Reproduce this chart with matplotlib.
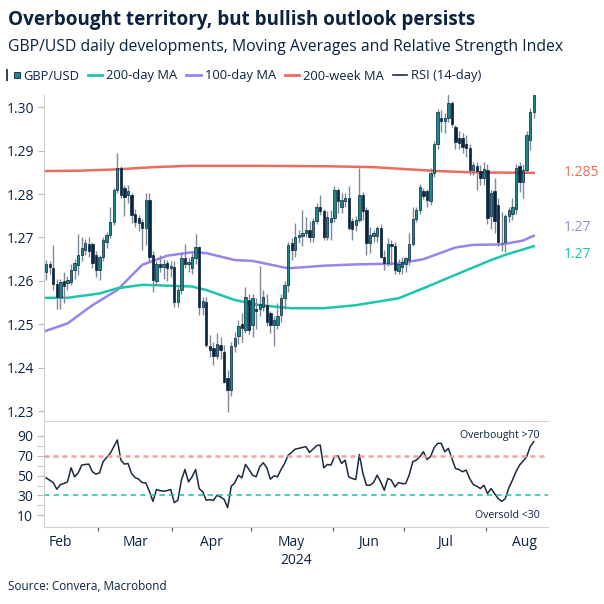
import numpy as np
import pandas as pd
import matplotlib
matplotlib.use("Agg")
import matplotlib.pyplot as plt
from matplotlib.lines import Line2D
from matplotlib.legend_handler import HandlerTuple

plt.rcParams['font.family'] = ['Open Sans', 'DejaVu Sans']

# GBP/USD daily candles, 9 Feb - 20 Aug 2024 (business days)
dates = pd.bdate_range('2024-02-09', '2024-08-20')

gbp_open = [
    1.2621, 1.2640, 1.2630, 1.2592, 1.2564, 1.2600, 1.2595, 1.2597, 1.2625, 1.2637,
    1.2660, 1.2671, 1.2685, 1.2685, 1.2660, 1.2625, 1.2656, 1.2690, 1.2706, 1.2736,
    1.2810, 1.2859, 1.2813, 1.2798, 1.2798, 1.2754, 1.2744, 1.2736, 1.2721, 1.2786,
    1.2660, 1.2600, 1.2640, 1.2633, 1.2641, 1.2629, 1.2633, 1.2552, 1.2579, 1.2652,
    1.2640, 1.2629, 1.2652, 1.2679, 1.2541, 1.2552, 1.2450, 1.2446, 1.2426, 1.2452,
    1.2437, 1.2376, 1.2349, 1.2449, 1.2472, 1.2500, 1.2487, 1.2556, 1.2499, 1.2535,
    1.2536, 1.2541, 1.2545, 1.2525, 1.2499, 1.2499, 1.2522, 1.2560, 1.2591, 1.2687,
    1.2672, 1.2700, 1.2703, 1.2710, 1.2717, 1.2700, 1.2737, 1.2770, 1.2760, 1.2702,
    1.2735, 1.2744, 1.2809, 1.2771, 1.2783, 1.2791, 1.2738, 1.2728, 1.2740, 1.2798,
    1.2763, 1.2687, 1.2704, 1.2703, 1.2721, 1.2656, 1.2642, 1.2685, 1.2681, 1.2622,
    1.2633, 1.2640, 1.2648, 1.2685, 1.2742, 1.2763, 1.2806, 1.2806, 1.2784, 1.2848,
    1.2915, 1.2975, 1.2968, 1.2975, 1.3009, 1.2955, 1.2930, 1.2930, 1.2915, 1.2906,
    1.2856, 1.2865, 1.2853, 1.2836, 1.2855, 1.2750, 1.2806, 1.2775, 1.2687, 1.2690,
    1.2750, 1.2755, 1.2765, 1.2865, 1.2828, 1.2855, 1.2925, 1.2990,
]
gbp_high = [
    1.2648, 1.2645, 1.2682, 1.2605, 1.2605, 1.2620, 1.2612, 1.2640, 1.2650, 1.2709,
    1.2702, 1.2697, 1.2700, 1.2690, 1.2668, 1.2660, 1.2700, 1.2712, 1.2771, 1.2813,
    1.2894, 1.2864, 1.2822, 1.2822, 1.2803, 1.2765, 1.2752, 1.2742, 1.2803, 1.2803,
    1.2670, 1.2645, 1.2660, 1.2650, 1.2648, 1.2645, 1.2645, 1.2585, 1.2667, 1.2684,
    1.2652, 1.2665, 1.2709, 1.2680, 1.2563, 1.2563, 1.2475, 1.2460, 1.2480, 1.2470,
    1.2452, 1.2395, 1.2460, 1.2483, 1.2510, 1.2525, 1.2587, 1.2570, 1.2570, 1.2560,
    1.2634, 1.2580, 1.2570, 1.2530, 1.2520, 1.2550, 1.2570, 1.2600, 1.2690, 1.2698,
    1.2733, 1.2717, 1.2763, 1.2748, 1.2737, 1.2745, 1.2779, 1.2798, 1.2765, 1.2760,
    1.2763, 1.2818, 1.2815, 1.2802, 1.2802, 1.2818, 1.2745, 1.2750, 1.2860, 1.2805,
    1.2770, 1.2725, 1.2717, 1.2727, 1.2730, 1.2671, 1.2698, 1.2695, 1.2690, 1.2650,
    1.2656, 1.2656, 1.2710, 1.2771, 1.2770, 1.2823, 1.2815, 1.2812, 1.2860, 1.2923,
    1.2995, 1.2994, 1.2987, 1.3044, 1.3015, 1.2960, 1.2945, 1.2940, 1.2935, 1.2915,
    1.2875, 1.2875, 1.2868, 1.2875, 1.2870, 1.2810, 1.2838, 1.2790, 1.2758, 1.2755,
    1.2770, 1.2790, 1.2870, 1.2875, 1.2870, 1.2945, 1.2998, 1.3054,
]
gbp_low = [
    1.2602, 1.2615, 1.2580, 1.2536, 1.2535, 1.2549, 1.2580, 1.2590, 1.2605, 1.2614,
    1.2645, 1.2660, 1.2655, 1.2630, 1.2610, 1.2602, 1.2645, 1.2675, 1.2698, 1.2728,
    1.2802, 1.2790, 1.2750, 1.2780, 1.2733, 1.2725, 1.2715, 1.2671, 1.2683, 1.2645,
    1.2575, 1.2590, 1.2620, 1.2605, 1.2600, 1.2610, 1.2540, 1.2540, 1.2570, 1.2630,
    1.2620, 1.2617, 1.2640, 1.2521, 1.2522, 1.2447, 1.2425, 1.2406, 1.2420, 1.2420,
    1.2365, 1.2299, 1.2334, 1.2437, 1.2455, 1.2460, 1.2480, 1.2477, 1.2470, 1.2490,
    1.2520, 1.2530, 1.2495, 1.2480, 1.2449, 1.2490, 1.2505, 1.2535, 1.2575, 1.2648,
    1.2656, 1.2687, 1.2680, 1.2702, 1.2690, 1.2690, 1.2730, 1.2752, 1.2694, 1.2695,
    1.2694, 1.2735, 1.2756, 1.2756, 1.2770, 1.2717, 1.2695, 1.2715, 1.2735, 1.2740,
    1.2660, 1.2664, 1.2690, 1.2690, 1.2652, 1.2625, 1.2635, 1.2637, 1.2617, 1.2615,
    1.2617, 1.2621, 1.2637, 1.2680, 1.2735, 1.2755, 1.2788, 1.2770, 1.2775, 1.2840,
    1.2905, 1.2944, 1.2940, 1.2965, 1.2955, 1.2905, 1.2905, 1.2895, 1.2886, 1.2844,
    1.2845, 1.2809, 1.2822, 1.2820, 1.2730, 1.2720, 1.2710, 1.2680, 1.2668, 1.2666,
    1.2735, 1.2740, 1.2755, 1.2805, 1.2790, 1.2848, 1.2902, 1.2975,
]
gbp_close = [
    1.2640, 1.2632, 1.2592, 1.2564, 1.2597, 1.2588, 1.2602, 1.2625, 1.2641, 1.2660,
    1.2675, 1.2687, 1.2668, 1.2641, 1.2625, 1.2656, 1.2694, 1.2706, 1.2736, 1.2810,
    1.2859, 1.2798, 1.2794, 1.2806, 1.2752, 1.2736, 1.2733, 1.2721, 1.2786, 1.2656,
    1.2602, 1.2640, 1.2633, 1.2638, 1.2629, 1.2634, 1.2551, 1.2579, 1.2652, 1.2640,
    1.2644, 1.2656, 1.2679, 1.2541, 1.2554, 1.2452, 1.2440, 1.2426, 1.2454, 1.2441,
    1.2368, 1.2349, 1.2449, 1.2468, 1.2495, 1.2491, 1.2564, 1.2487, 1.2560, 1.2531,
    1.2546, 1.2564, 1.2506, 1.2498, 1.2510, 1.2518, 1.2560, 1.2591, 1.2683, 1.2672,
    1.2700, 1.2706, 1.2711, 1.2717, 1.2700, 1.2737, 1.2770, 1.2760, 1.2700, 1.2748,
    1.2744, 1.2809, 1.2783, 1.2786, 1.2791, 1.2722, 1.2720, 1.2740, 1.2798, 1.2760,
    1.2687, 1.2706, 1.2710, 1.2721, 1.2656, 1.2642, 1.2685, 1.2681, 1.2625, 1.2640,
    1.2644, 1.2652, 1.2685, 1.2743, 1.2763, 1.2817, 1.2796, 1.2786, 1.2848, 1.2915,
    1.2990, 1.2968, 1.2976, 1.3009, 1.2962, 1.2921, 1.2917, 1.2909, 1.2906, 1.2856,
    1.2867, 1.2853, 1.2836, 1.2858, 1.2745, 1.2802, 1.2737, 1.2690, 1.2688, 1.2750,
    1.2763, 1.2771, 1.2860, 1.2828, 1.2855, 1.2936, 1.2990, 1.3030,
]

# moving averages, read at selected days (index into dates)
ma200d_idx = [0, 6, 15, 20, 27, 34, 41, 45, 53, 60, 69, 78, 87, 99, 106, 115, 125, 129, 137]
ma200d = [1.2561, 1.2561, 1.2571, 1.2583, 1.2591, 1.2589, 1.2587, 1.2579, 1.2556, 1.2544,
          1.2537, 1.2537, 1.2544, 1.2560, 1.2583, 1.2614, 1.2648, 1.2660, 1.2680]
ma100d_idx = [0, 6, 13, 20, 27, 34, 41, 45, 53, 58, 68, 78, 87, 99, 106, 115, 120, 128, 134, 137]
ma100d = [1.2485, 1.2502, 1.2544, 1.2579, 1.2637, 1.2658, 1.2666, 1.2664, 1.2648, 1.2646,
          1.2629, 1.2635, 1.2638, 1.2640, 1.2650, 1.2677, 1.2683, 1.2684, 1.2693, 1.2704]
ma200w_idx = [0, 10, 20, 30, 40, 60, 80, 92, 100, 110, 120, 137]
ma200w = [1.2853, 1.2854, 1.2857, 1.2862, 1.2865, 1.2865, 1.2864, 1.2862, 1.2858, 1.2853,
          1.2850, 1.2849]
ma_labels = ['1.285', '1.27', '1.27']

# RSI (14-day)
rsi = [
    47.8, 45.4, 43.0, 36.3, 41.0, 42.0, 43.7, 57.9, 48.8, 52.8,
    60.6, 61.3, 61.6, 53.9, 51.5, 52.8, 64.0, 68.4, 72.4, 79.2,
    86.0, 65.7, 61.6, 62.3, 52.2, 48.1, 46.4, 43.0, 42.7, 34.3,
    24.1, 36.0, 34.9, 34.3, 34.9, 36.0, 22.8, 25.1, 45.4, 56.2,
    43.7, 48.8, 56.2, 37.0, 33.6, 25.1, 25.8, 25.1, 30.2, 28.5,
    26.1, 17.7, 39.3, 42.7, 50.5, 47.8, 61.3, 56.2, 50.5, 48.8,
    58.9, 63.0, 57.9, 46.4, 49.8, 48.8, 56.2, 62.3, 70.7, 73.5,
    76.8, 77.5, 78.5, 79.2, 73.4, 76.8, 80.2, 80.9, 57.9, 61.3,
    60.6, 69.1, 70.1, 62.3, 65.7, 48.8, 47.1, 46.1, 71.4, 52.2,
    40.3, 40.3, 43.0, 50.5, 43.7, 35.3, 47.1, 45.4, 38.6, 43.0,
    42.0, 42.0, 50.5, 64.0, 65.7, 69.1, 74.1, 66.4, 69.1, 78.2,
    82.6, 82.6, 74.1, 77.5, 67.4, 57.2, 56.2, 53.9, 55.6, 47.1,
    41.0, 39.3, 37.0, 40.3, 31.9, 37.0, 31.9, 26.8, 24.1, 26.8,
    37.6, 45.4, 53.9, 60.6, 64.7, 69.1, 79.2, 84.3,
]

navy = '#0b2340'
bull = '#1a8a88'
bear = '#0b2540'
wick = '#7c8997'
c200d = '#1cc6aa'
c100d = '#9b82ef'
c200w = '#ea6c5f'
grey = '#cfcfcf'

o = np.array(gbp_open)
h = np.array(gbp_high)
l = np.array(gbp_low)
c = np.array(gbp_close)
x = np.arange(len(dates))

fig = plt.figure(figsize=(6.04, 6.04), dpi=100)
ax = fig.add_axes([44/604, 1-421/604, 504/604, 326/604])
ax2 = fig.add_axes([44/604, 1-527/604, 504/604, 104/604], sharex=ax)

# candles
up = c >= o
ax.vlines(x, l, h, color=wick, lw=1.0, zorder=2)
ax.bar(x[up], (c-o)[up], bottom=o[up], width=0.66, color=bull,
       edgecolor=bear, linewidth=0.5, zorder=3)
ax.bar(x[~up], (o-c)[~up], bottom=c[~up], width=0.66, color=bear,
       edgecolor=bear, linewidth=0.5, zorder=3)

ax.plot(ma200w_idx, ma200w, color=c200w, lw=1.8, zorder=1)
ax.plot(ma100d_idx, ma100d, color=c100d, lw=1.8, zorder=1)
ax.plot(ma200d_idx, ma200d, color=c200d, lw=1.8, zorder=1)

for val, txt, col, dy in [(ma200w[-1], ma_labels[0], c200w, 0),
                          (ma100d[-1], ma_labels[1], c100d, 8),
                          (ma200d[-1], ma_labels[2], c200d, -8)]:
    ax.annotate(txt, xy=(1, val), xycoords=('axes fraction', 'data'),
                xytext=(16, dy), textcoords='offset pixels',
                color=col, fontsize=10, va='center', annotation_clip=False)

ax.set_xlim(-0.6, 141)
ax.set_ylim(1.22772, 1.30283)
ax.set_yticks(np.arange(1.23, 1.3001, 0.01))
ax.set_yticklabels([f'{v:.2f}' for v in np.arange(1.23, 1.3001, 0.01)])
ax.tick_params(axis='y', length=4, color='#bbbbbb', labelcolor=navy, labelsize=10, pad=3)
for s in ['top', 'right']:
    ax.spines[s].set_visible(False)
ax.spines['left'].set_color(grey)
ax.spines['bottom'].set_color(grey)

# RSI panel
ax2.plot(x, rsi, color='#1b2a41', lw=1.1)
ax2.axhline(70, color='#f4a298', lw=1.8, ls=(0, (2.0, 1.6)))
ax2.axhline(30, color='#1fbfa5', lw=1.1, ls=(0, (3.5, 2.8)))
ax2.set_ylim(-1.8, 103.1)
ax2.set_yticks([10, 30, 50, 70, 90])
ax2.set_yticks([20, 40, 60, 80], minor=True)
ax2.tick_params(axis='y', which='both', length=5, color='#bbbbbb', labelcolor=navy, labelsize=10, pad=3)
ax2.text(0.984, 90.5, 'Overbought >70', transform=ax2.get_yaxis_transform(),
         ha='right', va='center', fontsize=7.6, color=navy)
ax2.text(0.984, 10, 'Oversold <30', transform=ax2.get_yaxis_transform(),
         ha='right', va='center', fontsize=7.6, color=navy)
for s in ['top', 'right']:
    ax2.spines[s].set_visible(False)
ax2.spines['left'].set_color(grey)
ax2.spines['bottom'].set_color(grey)

# month ticks at boundaries, labels centred on full months
allb = pd.bdate_range('2024-02-01', '2024-08-31')
pos = {d: i for i, d in enumerate(allb)}
off = pos[dates[0]]
months = pd.date_range('2024-02-01', '2024-09-01', freq='MS')
starts = [allb.searchsorted(m) - off - 0.5 for m in months]
ax2.set_xticks(starts[1:-1])
ax2.set_xticks([(a + b) / 2 for a, b in zip(starts[:-1], starts[1:])], minor=True)
ax2.set_xticklabels([m.strftime('%b') for m in months[:-1]], minor=True)
ax2.tick_params(axis='x', which='major', length=3, color='#555555', labelbottom=False)
ax2.tick_params(axis='x', which='minor', length=0, labelcolor=navy, labelsize=10, pad=6)
ax2.set_xlim(-0.6, 141)
# main panel shares the x axis but shows no x ticks or labels
ax.tick_params(axis='x', which='both', bottom=False, labelbottom=False)

fig.text(296/604, 1-561/604, '2024', ha='center', va='center', fontsize=10, color=navy)

fig.text(8/604, 1-20/604, 'Overbought territory, but bullish outlook persists',
         fontsize=13.6, fontweight='bold', color=navy, va='center')
fig.text(8/604, 1-47/604, 'GBP/USD daily developments, Moving Averages and Relative Strength Index',
         fontsize=11.3, color=navy, va='center')
fig.text(8/604, 1-586/604, 'Source: Convera, Macrobond', fontsize=8.5, color=navy, va='center')

h_candle = (Line2D([], [], color=bear, marker='|', markersize=9, mew=1.2, ls='None'),
            Line2D([], [], marker='s', markersize=4.5, markerfacecolor=bull,
                   markeredgecolor=bear, mew=0.6, ls='None'))
handles = [h_candle,
           Line2D([], [], color=c200d, lw=2),
           Line2D([], [], color=c100d, lw=2),
           Line2D([], [], color=c200w, lw=2),
           Line2D([], [], color='#1b2a41', lw=1.2)]
names = ['GBP/USD', '200-day MA', '100-day MA', '200-week MA', 'RSI (14-day)']
leg = fig.legend(handles, names, loc='center left', bbox_to_anchor=(0.0, 1-76/604),
                 ncol=5, frameon=False, fontsize=9.3, handlelength=1.1,
                 handletextpad=0.3, columnspacing=0.7, borderaxespad=0,
                 handler_map={tuple: HandlerTuple(ndivide=None)})
for t in leg.get_texts():
    t.set_color(navy)

fig.savefig('out.png', dpi=100)
